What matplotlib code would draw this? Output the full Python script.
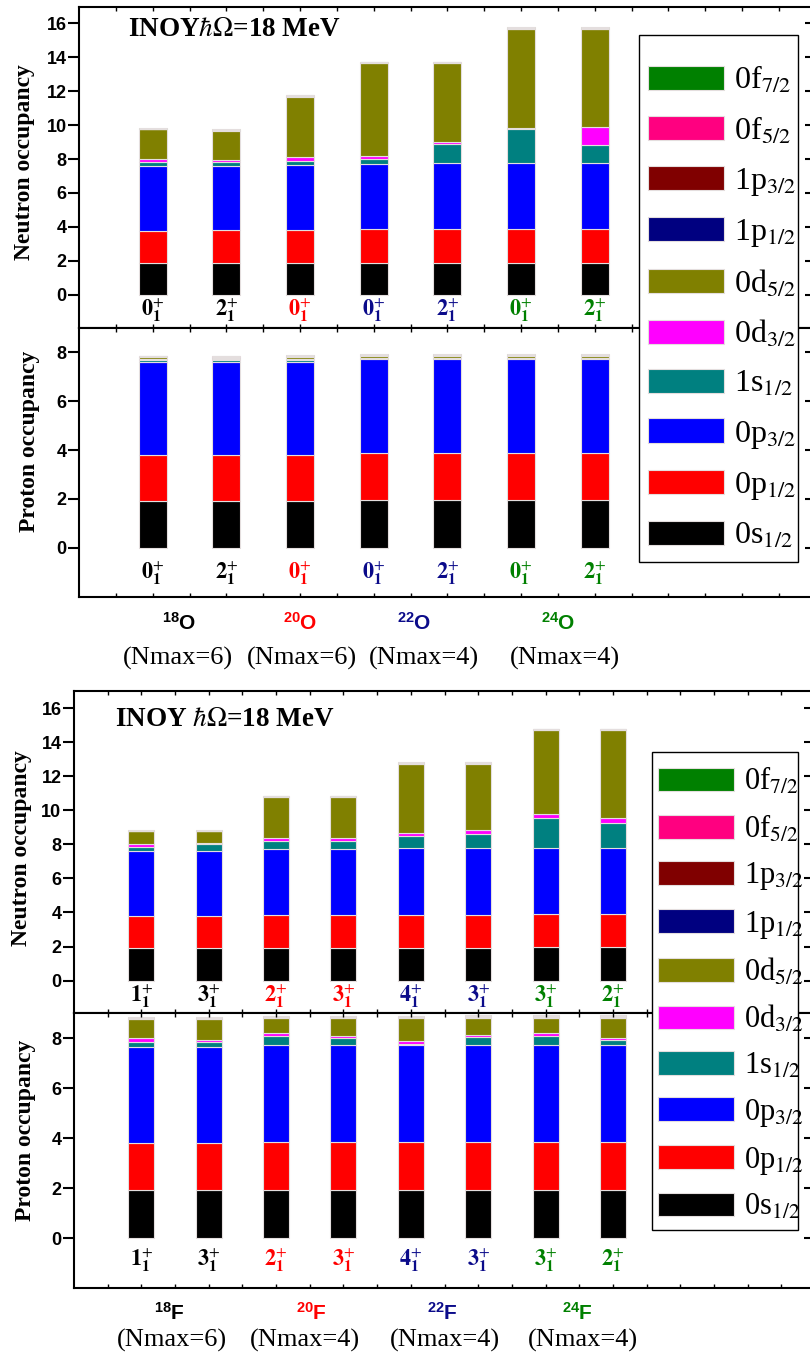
import matplotlib
matplotlib.use('Agg')
import matplotlib.pyplot as plt
import numpy as np
from matplotlib.patches import Patch, Rectangle
from matplotlib.font_manager import FontProperties

plt.rcParams['font.family'] = 'Liberation Sans'
plt.rcParams['mathtext.fontset'] = 'stix'
# "custom" math font is only used for the nucleus labels (bold sans)
plt.rcParams['mathtext.rm'] = 'Liberation Sans:bold'
plt.rcParams['mathtext.it'] = 'Liberation Sans:italic:bold'
plt.rcParams['mathtext.bf'] = 'Liberation Sans:bold'

# orbitals, bottom of the stack first
orbitals = [r'0s$_{1/2}$', r'0p$_{1/2}$', r'0p$_{3/2}$', r'1s$_{1/2}$', r'0d$_{3/2}$',
            r'0d$_{5/2}$', r'1p$_{1/2}$', r'1p$_{3/2}$', r'0f$_{5/2}$', r'0f$_{7/2}$']
orb_colors = ['#000000', '#ff0000', '#0000ff', '#008080', '#ff00ff',
              '#808000', '#000080', '#800000', '#ff0080', '#008000']

NAVY = '#0b0b8a'
GREEN = '#008000'

# ---------------- oxygen isotopes ----------------
o_states = ['0', '2', '0', '0', '2', '0', '2']
o_state_colors = ['black', 'black', 'red', NAVY, NAVY, GREEN, GREEN]
o_nuclei = [r'$^{18}$O', r'$^{20}$O', r'$^{22}$O', r'$^{24}$O']
o_nuclei_colors = ['black', 'red', NAVY, GREEN]
o_nmax = ['(Nmax=6)', '(Nmax=6)', '(Nmax=4)', '(Nmax=4)']

o_neutron = [
    [1.86, 1.86, 1.86, 1.90, 1.90, 1.90, 1.90],   # 0s1/2
    [1.92, 1.96, 1.96, 1.96, 1.96, 1.96, 1.96],   # 0p1/2
    [3.83, 3.79, 3.83, 3.83, 3.89, 3.89, 3.89],   # 0p3/2
    [0.19, 0.19, 0.23, 0.31, 1.13, 2.00, 1.05],   # 1s1/2
    [0.18, 0.14, 0.26, 0.20, 0.12, 0.10, 1.10],   # 0d3/2
    [1.77, 1.73, 3.53, 5.47, 4.67, 5.78, 5.73],   # 0d5/2
    [0.01, 0.02, 0.02, 0.01, 0.01, 0.03, 0.03],   # 1p1/2
    [0.02, 0.03, 0.03, 0.02, 0.02, 0.04, 0.05],   # 1p3/2
    [0.01, 0.01, 0.02, 0.01, 0.01, 0.02, 0.03],   # 0f5/2
    [0.02, 0.02, 0.02, 0.02, 0.02, 0.03, 0.04],   # 0f7/2
]
o_proton = [
    [1.93, 1.93, 1.93, 1.95, 1.95, 1.95, 1.95],
    [1.88, 1.88, 1.88, 1.92, 1.91, 1.91, 1.91],
    [3.81, 3.81, 3.81, 3.85, 3.86, 3.86, 3.86],
    [0.05, 0.05, 0.05, 0.04, 0.04, 0.04, 0.04],
    [0.04, 0.04, 0.04, 0.03, 0.03, 0.03, 0.03],
    [0.09, 0.08, 0.09, 0.06, 0.06, 0.06, 0.06],
    [0.02, 0.02, 0.02, 0.02, 0.02, 0.02, 0.02],
    [0.02, 0.02, 0.03, 0.02, 0.02, 0.03, 0.03],
    [0.01, 0.01, 0.01, 0.01, 0.01, 0.01, 0.01],
    [0.02, 0.02, 0.02, 0.02, 0.02, 0.02, 0.02],
]

# ---------------- fluorine isotopes ----------------
f_states = ['1', '3', '2', '3', '4', '3', '3', '2']
f_state_colors = ['black', 'black', 'red', 'red', NAVY, NAVY, GREEN, GREEN]
f_nuclei = [r'$^{18}$F', r'$^{20}$F', r'$^{22}$F', r'$^{24}$F']
f_nuclei_colors = ['black', 'red', NAVY, GREEN]
f_nmax = ['(Nmax=6)', '(Nmax=4)', '(Nmax=4)', '(Nmax=4)']

f_neutron = [
    [1.92, 1.92, 1.92, 1.92, 1.92, 1.92, 1.96, 1.96],
    [1.90, 1.90, 1.95, 1.95, 1.95, 1.95, 1.95, 1.95],
    [3.77, 3.77, 3.86, 3.86, 3.90, 3.92, 3.88, 3.88],
    [0.24, 0.43, 0.45, 0.49, 0.70, 0.84, 1.78, 1.44],
    [0.17, 0.06, 0.18, 0.18, 0.22, 0.23, 0.20, 0.31],
    [0.77, 0.69, 2.42, 2.38, 4.03, 3.88, 4.93, 5.17],
    [0.01, 0.01, 0.02, 0.02, 0.02, 0.02, 0.02, 0.02],
    [0.02, 0.02, 0.03, 0.03, 0.04, 0.04, 0.03, 0.03],
    [0.01, 0.01, 0.01, 0.01, 0.02, 0.02, 0.01, 0.01],
    [0.02, 0.02, 0.02, 0.02, 0.02, 0.02, 0.02, 0.02],
]
f_proton = [
    [1.94, 1.94, 1.94, 1.94, 1.94, 1.94, 1.94, 1.94],
    [1.87, 1.87, 1.92, 1.92, 1.92, 1.92, 1.92, 1.92],
    [3.83, 3.83, 3.86, 3.86, 3.86, 3.86, 3.86, 3.86],
    [0.19, 0.19, 0.38, 0.28, 0.06, 0.34, 0.38, 0.20],
    [0.18, 0.08, 0.10, 0.08, 0.12, 0.06, 0.10, 0.10],
    [0.75, 0.85, 0.59, 0.71, 0.89, 0.68, 0.60, 0.78],
    [0.02, 0.02, 0.02, 0.02, 0.02, 0.02, 0.02, 0.02],
    [0.03, 0.03, 0.04, 0.04, 0.04, 0.04, 0.04, 0.04],
    [0.01, 0.01, 0.02, 0.02, 0.02, 0.02, 0.02, 0.02],
    [0.02, 0.02, 0.03, 0.03, 0.03, 0.03, 0.03, 0.03],
]

W, H = 810, 1358


def fig_rect(left, top, right, bottom):
    return [left / W, 1 - bottom / H, (right - left) / W, (bottom - top) / H]


def draw_stack(ax, values, width):
    n = len(values[0])
    x = np.arange(1, n + 1)
    base = np.zeros(n)
    for vals, c in zip(values, orb_colors):
        ax.bar(x, vals, width, bottom=base, color=c, edgecolor='#e4dede', linewidth=0.8)
        base += np.array(vals)


def style_axis(ax, ylim, yticks, xmax):
    ax.set_xlim(0, xmax)
    ax.set_ylim(*ylim)
    ax.set_yticks(yticks, [str(t) for t in yticks], fontweight='bold', fontsize=13)
    ax.set_xticks([])
    ax.set_xticks(np.arange(0.5, xmax, 0.5), minor=True)
    ax.tick_params(axis='x', which='minor', direction='in', length=3, width=1,
                   top=True, bottom=True)
    ax.tick_params(axis='y', direction='out', length=8, width=1.5, pad=1)
    for sp in ax.spines.values():
        sp.set_linewidth(1.5)
    sec = ax.secondary_yaxis('right')
    sec.set_yticks(yticks)
    sec.tick_params(direction='in', length=8, width=1.5, labelright=False)
    sec.spines['right'].set_linewidth(1.5)


def state_labels(ax, states, colors, y):
    for i, (s, c) in enumerate(zip(states, colors)):
        ax.text(i + 1, y, r'$\mathbf{%s}^{+}_{\mathbf{1}}$' % s, color=c,
                ha='center', va='center', fontsize=16)


def orbital_legend(box, size, spacing, anchor):
    # frame drawn separately so the padding can differ per side
    x0, y0, x1, y1 = box
    fig.patches.append(Rectangle((x0 / W, 1 - y1 / H), (x1 - x0) / W, (y1 - y0) / H,
                                 transform=fig.transFigure, facecolor='white',
                                 edgecolor='black', linewidth=1.0, zorder=5))
    handles = [Patch(facecolor=c, edgecolor='#e4dede', linewidth=0.8)
               for c in orb_colors][::-1]
    leg = fig.legend(handles, orbitals[::-1], loc='upper left',
                     bbox_to_anchor=(anchor[0] / W, 1 - anchor[1] / H),
                     frameon=False,
                     prop=FontProperties(family='Liberation Serif', weight='normal',
                                         size=size),
                     handlelength=76 / (size * 100 / 72), handleheight=25 / (size * 100 / 72),
                     labelspacing=spacing, handletextpad=0.33,
                     borderpad=0, borderaxespad=0)
    leg.set_zorder(6)


def panel(n_vals, p_vals, states, state_colors, nuclei, nuclei_colors, nmax,
          rect_n, rect_p, n_ylim, p_ylim, xmax, width, lab_y, nuc_x, nmax_x,
          nuc_y, nmax_y, title_xy, title, ylab_n, ylab_p):
    axn = fig.add_axes(rect_n)
    axp = fig.add_axes(rect_p)
    draw_stack(axn, n_vals, width)
    draw_stack(axp, p_vals, width)
    style_axis(axn, n_ylim, list(range(0, 17, 2)), xmax)
    style_axis(axp, p_ylim, list(range(0, 9, 2)), xmax)
    state_labels(axn, states, state_colors, lab_y[0])
    state_labels(axp, states, state_colors, lab_y[1])

    for nx, mx, name, c, nm in zip(nuc_x, nmax_x, nuclei, nuclei_colors, nmax):
        axp.annotate(name, (nx, 1 - nuc_y / H), xycoords=('data', 'figure fraction'),
                     ha='center', va='center', color=c, fontsize=15, fontweight='bold',
                     math_fontfamily='custom', annotation_clip=False)
        axp.annotate(nm, (mx, 1 - nmax_y / H), xycoords=('data', 'figure fraction'),
                     ha='center', va='center', fontsize=19,
                     family='Liberation Serif', annotation_clip=False)

    fig.text(title_xy[0] / W, 1 - title_xy[1] / H, title, ha='left', va='center',
             family='Liberation Serif', fontweight='bold', fontsize=19.5)
    fig.text(ylab_n[0] / W, 1 - ylab_n[1] / H, 'Neutron occupancy', rotation=90,
             ha='center', va='center', family='Liberation Serif', fontweight='bold',
             fontsize=17)
    fig.text(ylab_p[0] / W, 1 - ylab_p[1] / H, 'Proton occupancy', rotation=90,
             ha='center', va='center', family='Liberation Serif', fontweight='bold',
             fontsize=17)


fig = plt.figure(figsize=(W / 100, H / 100), dpi=100)

panel(o_neutron, o_proton, o_states, o_state_colors, o_nuclei, o_nuclei_colors, o_nmax,
      fig_rect(79, 7, 815.7, 328), fig_rect(79, 328, 815.7, 597),
      (-1.95, 16.95), (-2.02, 9.0), 10, 0.38, (-0.9, -1.05),
      [1.36, 3.0, 4.55, 6.51], [1.34, 3.02, 4.68, 6.59], 623, 658,
      (128, 30), r'INOY$\hbar\mathit{\Omega}$=18 MeV', (25, 162), (30, 441))
orbital_legend((639.3, 35, 797.7, 561.7), 23, 0.60, (647.7, 65))

panel(f_neutron, f_proton, f_states, f_state_colors, f_nuclei, f_nuclei_colors, f_nmax,
      fig_rect(74, 691, 815, 1013), fig_rect(74, 1013, 815, 1288),
      (-1.9, 17.0), (-1.98, 9.0), 11, 0.386, (-0.94, -0.9),
      [1.42, 3.52, 5.47, 7.48], [1.45, 3.43, 5.5, 7.55], 1313, 1340,
      (115, 719), r'INOY $\hbar\mathit{\Omega}$=18 MeV', (22, 848), (26, 1130))
orbital_legend((652.3, 751.7, 798.3, 1230), 22, 0.525, (658.3, 766))

fig.savefig('out.png', dpi=100)
